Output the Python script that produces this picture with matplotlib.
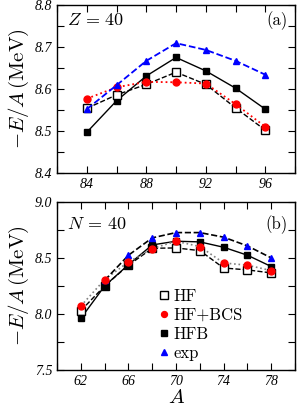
import matplotlib.pyplot as plt
from matplotlib.ticker import MultipleLocator

plt.rcParams['mathtext.fontset'] = 'cm'
plt.rcParams['font.family'] = 'Liberation Serif'

# panel (a): Z = 40
A_z = [84, 86, 88, 90, 92, 94, 96]
hf_z = [8.554, 8.586, 8.611, 8.640, 8.611, 8.555, 8.502]
bcs_z = [8.577, 8.604, 8.617, 8.616, 8.613, 8.564, 8.510]
hfb_z = [8.497, 8.572, 8.631, 8.675, 8.643, 8.602, 8.552]
exp_z = [8.552, 8.609, 8.667, 8.709, 8.693, 8.667, 8.634]

# panel (b): N = 40
A_n = [62, 64, 66, 68, 70, 72, 74, 76, 78]
hf_n = [8.03, 8.25, 8.435, 8.586, 8.589, 8.565, 8.41, 8.393, 8.366]
bcs_n = [8.071, 8.307, 8.464, 8.583, 8.649, 8.601, 8.455, 8.435, 8.387]
hfb_n = [7.961, 8.25, 8.44, 8.616, 8.649, 8.643, 8.595, 8.524, 8.423]
A_exp_n = [64, 66, 68, 70, 72, 74, 76, 78]
exp_n = [8.30, 8.524, 8.679, 8.726, 8.726, 8.685, 8.607, 8.50]

fig = plt.figure(figsize=(3.02, 4.12), dpi=100)
ax1 = fig.add_axes([0.189, 0.580, 0.788, 0.408])
ax2 = fig.add_axes([0.189, 0.102, 0.788, 0.408])

ms = 5
lw = 1.0

# top panel
ax1.plot(A_z, hfb_z, '-', color='black', lw=lw, marker='s', ms=ms, mfc='black', mec='black')
ax1.plot(A_z, hf_z, '--', color='black', lw=lw, marker='s', ms=ms + 1, mfc='white', mec='black', mew=1.0)
ax1.plot(A_z, bcs_z, ':', color='red', lw=1.3, marker='o', ms=ms, mfc='red', mec='red')
ax1.plot(A_z, exp_z, '--', color='blue', lw=1.3, marker='^', ms=ms, mfc='blue', mec='blue')

# bottom panel
ax2.plot(A_n, hfb_n, '-', color='black', lw=lw, zorder=2)
ax2.plot(A_n, hf_n, '--', color='black', lw=lw, zorder=2)
ax2.plot(A_n, bcs_n, ':', color='gray', lw=1.2, zorder=2)
ax2.plot(A_exp_n, exp_n, '--', color='black', lw=1.2, zorder=2)
ax2.plot(A_n, hf_n, 's', ls='none', ms=ms + 1, mfc='white', mec='black', mew=1.0, label='HF', zorder=3)
ax2.plot(A_n, bcs_n, 'o', ls='none', ms=ms, mfc='red', mec='red', label='HF+BCS', zorder=4)
ax2.plot(A_n, hfb_n, 's', ls='none', ms=ms, mfc='black', mec='black', label='HFB', zorder=3)
ax2.plot(A_exp_n, exp_n, '^', ls='none', ms=ms, mfc='blue', mec='blue', label='exp', zorder=3)

ax1.set_xlim(82, 98)
ax1.set_ylim(8.4, 8.8)
ax1.xaxis.set_major_locator(MultipleLocator(4))
ax1.xaxis.set_minor_locator(MultipleLocator(2))
ax1.yaxis.set_major_locator(MultipleLocator(0.1))
ax1.yaxis.set_minor_locator(MultipleLocator(0.05))

ax2.set_xlim(60, 80)
ax2.set_ylim(7.5, 9.0)
ax2.set_xticks([62, 66, 70, 74, 78])
ax2.xaxis.set_minor_locator(MultipleLocator(2))
ax2.yaxis.set_major_locator(MultipleLocator(0.5))
ax2.yaxis.set_minor_locator(MultipleLocator(0.25))
ax2.yaxis.set_major_formatter(plt.FormatStrFormatter('%.1f'))

for ax in (ax1, ax2):
    ax.tick_params(which='both', direction='in', top=True, right=True,
                   length=5, width=0.8, labelsize=10)
    for lab in ax.get_xticklabels() + ax.get_yticklabels():
        lab.set_fontstyle('italic')
    for sp in ax.spines.values():
        sp.set_linewidth(1.0)
    ax.set_ylabel(r'$-E/A\,(\mathrm{MeV})$', fontsize=15, labelpad=3)

ax1.text(0.04, 0.88, r'$Z\,=\,40$', transform=ax1.transAxes, fontsize=13)
ax1.text(0.97, 0.88, '(a)', transform=ax1.transAxes, fontsize=12, ha='right',
         family='cmr10')
ax2.text(0.04, 0.84, r'$N\,=\,40$', transform=ax2.transAxes, fontsize=13)
ax2.text(0.97, 0.84, '(b)', transform=ax2.transAxes, fontsize=12, ha='right',
         family='cmr10')
ax2.set_xlabel(r'$A$', fontsize=15, labelpad=1)

ax2.legend(loc='upper left', bbox_to_anchor=(0.38, 0.555), frameon=False,
           prop={'family': 'cmr10', 'size': 12}, markerscale=0.85,
           handlelength=0.6, handletextpad=0.25, labelspacing=0.22, borderpad=0.2)

fig.savefig('out.png', dpi=100)
